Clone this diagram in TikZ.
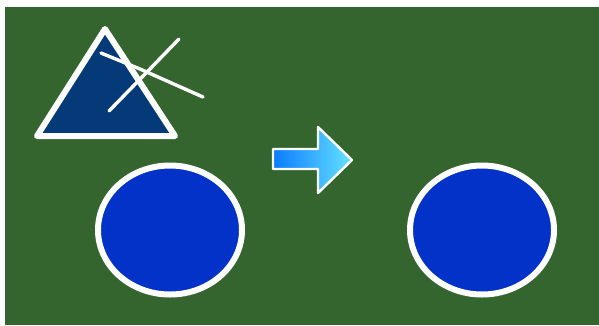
\documentclass[tikz,border=0pt]{standalone}
\usepackage{tikz}
\usetikzlibrary{shapes.geometric}

\definecolor{board}{HTML}{35652F}
\definecolor{prism}{HTML}{053A78}
\definecolor{disc}{HTML}{0232C8}
\definecolor{arrowL}{HTML}{0A7CFF}
\definecolor{arrowR}{HTML}{66E2FF}

\tikzset{
	blob/.style={ellipse, draw=white, line width=6pt, fill=disc, minimum width=144pt, minimum height=129pt, inner sep=0pt},
	scratch/.style={draw=white, line width=3.4pt, line cap=round, line join=round}
}

\begin{document}
\begin{tikzpicture}[x=1pt,y=-1pt]
	\useasboundingbox (0,0) rectangle (599,325);
	\fill[board] (5,7) rectangle (599,325);

	% crossed out triangle
	\draw[white, fill=prism, line width=6pt, line join=round] (105,29) -- (175,136) -- (37,136) -- cycle;
	\draw[scratch] (101,53) -- (140,69) -- (203,97);
	\draw[scratch] (179,39) -- (147,72) -- (109,111);

	% arrow
	\path[draw=white, line width=2.4pt, line join=round, left color=arrowL, right color=arrowR]
		(273,149) -- (318,149) -- (318,127) -- (352,160) -- (318,193) -- (318,169) -- (273,169) -- cycle;

	\node (l) [blob] at (170,230) {};
	\node (r) [blob] at (482,230) {};
\end{tikzpicture}
\end{document}
